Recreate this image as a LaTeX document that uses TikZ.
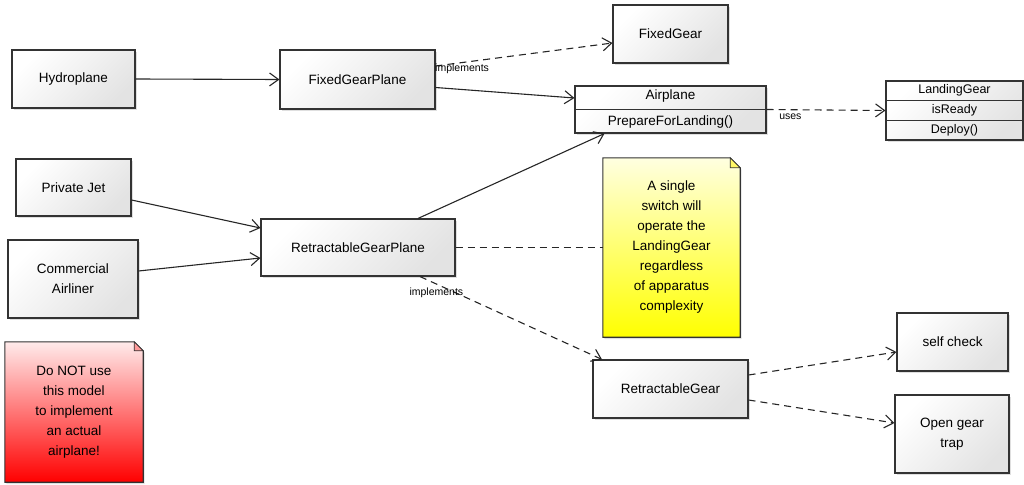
\documentclass[tikz,border=0pt]{standalone}
\usepackage{fontspec}
\setmainfont{Liberation Sans}
\usetikzlibrary{arrows.meta,shadows,calc}
\pgfdeclarelayer{background}
\pgfsetlayers{background,main}
\begin{document}
\begin{tikzpicture}[x=1pt,y=-1pt,
  every node/.style={font=\fontsize{13.5}{20}\selectfont},
  box/.style={draw=black!80, line width=1.1pt, top color=white, bottom color=black!11, shading angle=45,
    inner sep=0pt, align=center, drop shadow={opacity=0.25, shadow xshift=1.5pt, shadow yshift=-2pt}},
  conn/.style={draw=black!85, line width=1.1pt, -{Straight Barb[length=9pt,width=13pt]}},
  dep/.style={conn, dash pattern=on 7pt off 5pt},
  lbl/.style={font=\fontsize{10.5}{12}\selectfont, inner sep=1pt},
  notebg/.style={draw=black!80, line width=1.1pt, shading angle=45, drop shadow={opacity=0.25, shadow xshift=1.5pt, shadow yshift=-2pt}},
  notetxt/.style={align=center, inner sep=0pt}
]
\useasboundingbox (0,0) rectangle (1024,484);

% class boxes
\node[box, minimum width=123, minimum height=58] (hyd) at (73.5,79) {Hydroplane};
\node[box, minimum width=155, minimum height=59] (fgp) at (357.5,79.5) {FixedGearPlane};
\node[box, minimum width=115, minimum height=58] (fg) at (670.5,34) {FixedGear};
\node[box, minimum width=191, minimum height=47] (air) at (670.5,109.5) {Airplane\\[6pt]PrepareForLanding()};
\draw[draw=black!80, line width=1.1pt] (air.west) -- (air.east);
\node[box, minimum width=137, minimum height=59, font=\fontsize{12.5}{20}\selectfont] (lg) at (954.5,110.5) {LandingGear\\isReady\\Deploy()};
\draw[draw=black!80, line width=1.1pt] ($(lg.north west)+(0,19.7)$) -- ($(lg.north east)+(0,19.7)$);
\draw[draw=black!80, line width=1.1pt] ($(lg.south west)+(0,-19.7)$) -- ($(lg.south east)+(0,-19.7)$);
\node[box, minimum width=115, minimum height=57] (pj) at (73.5,187.5) {Private Jet};
\node[box, minimum width=130, minimum height=78] (ca) at (73,279) {Commercial\\Airliner};
\node[box, minimum width=194, minimum height=57] (rgp) at (358,247.5) {RetractableGearPlane};
\node[box, minimum width=155, minimum height=58] (rg) at (670.5,389) {RetractableGear};
\node[box, minimum width=111, minimum height=58] (sc) at (952.5,342) {self check};
\node[box, minimum width=114, minimum height=78] (ogt) at (952,434) {Open gear\\trap};

% notes
\node[notetxt, minimum width=137, minimum height=179] (yn) at (671.5,247.5) {A single\\switch will\\operate the\\LandingGear\\regardless\\of apparatus\\complexity};
\node[notetxt, minimum width=138, minimum height=140] (rn) at (74,412) {Do NOT use\\this model\\to implement\\an actual\\airplane!};
\begin{pgfonlayer}{background}
\shade[notebg, top color=yellow!12, bottom color=yellow] (yn.north west) -- ($(yn.north east)+(-10,0)$) -- ($(yn.north east)+(0,10)$) -- (yn.south east) -- (yn.south west) -- cycle;
\filldraw[draw=black!80, fill=yellow!60, line width=0.8pt] ($(yn.north east)+(-10,0)$) -- ($(yn.north east)+(-10,10)$) -- ($(yn.north east)+(0,10)$) -- cycle;
\shade[notebg, top color=red!8, bottom color=red] (rn.north west) -- ($(rn.north east)+(-9,0)$) -- ($(rn.north east)+(0,9)$) -- (rn.south east) -- (rn.south west) -- cycle;
\filldraw[draw=black!80, fill=red!40, line width=0.8pt] ($(rn.north east)+(-9,0)$) -- ($(rn.north east)+(-9,9)$) -- ($(rn.north east)+(0,9)$) -- cycle;
\end{pgfonlayer}

% connectors
\draw[conn] (hyd.east) -- (fgp.west);
\draw[dep] ([yshift=13.5pt]fgp.east) -- node[lbl, pos=0.15, below] {implements} ([yshift=-9pt]fg.west);
\draw[conn] ([yshift=-8pt]fgp.east) -- ([yshift=11.5pt]air.west);
\draw[conn] ([xshift=60pt]rgp.north) -- ([xshift=-66pt]air.south);
\draw[conn] ([yshift=-12.5pt]pj.east) -- ([yshift=19.5pt]rgp.west);
\draw[conn] ([yshift=8pt]ca.east) -- ([yshift=-10.5pt]rgp.west);
\draw[draw=black!85, line width=1.1pt, dash pattern=on 7pt off 5pt] (rgp.east) -- (yn.west);
\draw[dep] ([xshift=62pt]rgp.south) -- node[lbl, pos=0.09, below=2pt] {implements} ([xshift=-68.5pt]rg.north);
\draw[dep] (air.east) -- node[lbl, pos=0.2, below=3pt] {uses} (lg.west);
\draw[dep] ([yshift=14pt]rg.east) -- ([yshift=-10pt]sc.west);
\draw[dep] ([yshift=-11pt]rg.east) -- ([yshift=11pt]ogt.west);
\end{tikzpicture}
\end{document}
